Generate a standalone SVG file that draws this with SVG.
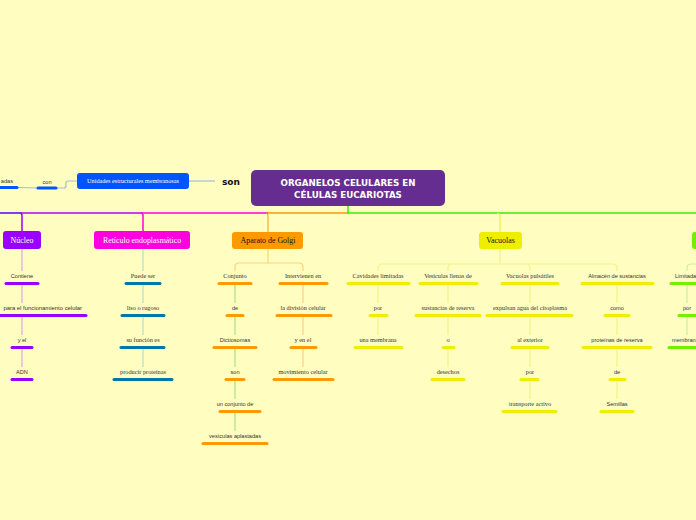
<svg xmlns="http://www.w3.org/2000/svg" width="696" height="520" viewBox="0 0 696 520">
<style>
.s{font-family:"Liberation Sans","DejaVu Sans",sans-serif;font-size:5.6px;fill:#333;text-anchor:middle}
.r{font-family:"Liberation Serif","DejaVu Serif",serif;font-size:6.3px;fill:#333;text-anchor:middle}
.nt{font-family:"Liberation Serif","DejaVu Serif",serif;font-size:7.9px;text-anchor:middle}
.bar{stroke-width:3;stroke-linecap:round;fill:none}
.c{fill:none;stroke-width:1.2}
.pu{stroke:#9900ff}.bl{stroke:#0077aa}.or{stroke:#ff9900}.ye{stroke:#eeee00}.gr{stroke:#77ee00}.bu{stroke:#0055ff}
</style>
<rect width="696" height="520" fill="#fffdc0"/>
<g id="connectors">
<line x1="0" y1="213" x2="22" y2="213" stroke="#5500ff" stroke-width="1.5"/>
<line x1="22" y1="213" x2="143" y2="213" stroke="#bb00ee" stroke-width="1.5"/>
<line x1="143" y1="213" x2="268" y2="213" stroke="#ff00dd" stroke-width="1.5"/>
<line x1="268" y1="213" x2="348" y2="213" stroke="#ff9900" stroke-width="1.5"/>
<path d="M348 206 L348 213 L696 213" stroke="#33ee00" stroke-width="1.5" fill="none"/>
<path d="M20 213 Q22 213 22 216 L22 231" stroke="#9900ff" stroke-width="1.5" fill="none"/>
<path d="M141 213 Q143 213 143 216 L143 231" stroke="#ff00dd" stroke-width="1.5" fill="none"/>
<path d="M266 213 Q268 213 268 216 L268 232" stroke="#ff9900" stroke-width="1" fill="none"/>
<path d="M497 213 Q500 213 500 216 L500 232" stroke="#eeee44" stroke-width="1.2" fill="none"/>
<path d="M189 181 L215 181" stroke="#a8bcd8" stroke-width="1.2" fill="none"/>
<path d="M18 187.5 L37 188" stroke="#a8bcd8" stroke-width="1.2" fill="none"/>
<path d="M57 188 L64 188 Q66 188 66 186 L66 183 Q66 181 68 181 L77 181" stroke="#a8bcd8" stroke-width="1.2" fill="none"/>
<g stroke="#e0a8e0" class="c">
<line x1="22" y1="249" x2="22" y2="271"/><line x1="22" y1="285" x2="22" y2="303"/><line x1="22" y1="317" x2="22" y2="335"/><line x1="22" y1="349" x2="22" y2="367"/>
</g>
<g stroke="#b0e0d4" class="c">
<line x1="143" y1="249" x2="143" y2="271"/><line x1="143" y1="285" x2="143" y2="303"/><line x1="143" y1="317" x2="143" y2="335"/><line x1="143" y1="349" x2="143" y2="367"/>
</g>
<path d="M268 249 L268 263 M235 271 L235 267 Q235 263 239 263 L299 263 Q303 263 303 267 L303 271" stroke="#ffd27a" class="c"/>
<g stroke="#a8e08a" class="c">
<line x1="235" y1="285" x2="235" y2="303"/><line x1="235" y1="317" x2="235" y2="335"/><line x1="235" y1="349" x2="235" y2="367"/><line x1="235" y1="381" x2="235" y2="399"/><line x1="235" y1="413" x2="235" y2="431"/>
</g>
<g stroke="#ffd27a" class="c">
<line x1="303" y1="285" x2="303" y2="303"/><line x1="303" y1="317" x2="303" y2="335"/><line x1="303" y1="349" x2="303" y2="367"/>
</g>
<path d="M500 249 L500 264 M378 271 L378 268 Q378 264 382 264 L613 264 Q617 264 617 268 L617 271 M448 271 L448 268 Q448 264 452 264 M530 271 L530 268 Q530 264 526 264" stroke="#f4f48a" class="c"/>
<g stroke="#f4f48a" class="c">
<line x1="378" y1="285" x2="378" y2="303"/><line x1="378" y1="317" x2="378" y2="335"/>
<line x1="448" y1="285" x2="448" y2="303"/><line x1="448" y1="317" x2="448" y2="335"/><line x1="448" y1="349" x2="448" y2="367"/>
<line x1="530" y1="285" x2="530" y2="303"/><line x1="530" y1="317" x2="530" y2="335"/><line x1="530" y1="349" x2="530" y2="367"/><line x1="530" y1="381" x2="530" y2="399"/>
<line x1="617" y1="285" x2="617" y2="303"/><line x1="617" y1="317" x2="617" y2="335"/><line x1="617" y1="349" x2="617" y2="367"/><line x1="617" y1="381" x2="617" y2="399"/>
</g>
<path d="M687 271 L687 268 Q687 264 691 264 L696 264 M687 285 L687 303 M687 317 L687 335" stroke="#c8f0a0" class="c"/>
</g>
<g id="center">
<rect x="251" y="170" width="194" height="36" rx="5" fill="#662d91"/>
<text x="348" y="186" font-family="'DejaVu Sans',Verdana,sans-serif" font-weight="bold" font-size="8.7" fill="#fff" text-anchor="middle">ORGANELOS CELULARES EN</text>
<text x="348" y="197.5" font-family="'DejaVu Sans',Verdana,sans-serif" font-weight="bold" font-size="8.7" fill="#fff" text-anchor="middle">CÉLULAS EUCARIOTAS</text>
</g>
<g id="son"><text x="231" y="185" font-family="'DejaVu Sans',sans-serif" font-weight="bold" font-size="9" fill="#111" text-anchor="middle">son</text></g>
<g id="unidades">
<rect x="77" y="173" width="112" height="16" rx="3" fill="#0055ff"/>
<text x="133" y="183" class="r" style="fill:#fff;font-size:6.2px">Unidades estructurales membranosas</text>
</g>
<g id="con"><text x="47" y="184" class="s">con</text><line x1="38" y1="188" x2="56" y2="188" class="bar bu"/></g>
<g id="adas"><text x="13" y="183" class="s" style="text-anchor:end">adas</text><line x1="0" y1="187.5" x2="17" y2="187.5" class="bar bu"/></g>
<g id="nucleo">
<rect x="3" y="231" width="38" height="18" rx="3" fill="#9900ff"/>
<text x="22" y="242.5" class="nt" fill="#fff">Núcleo</text>
</g>
<g id="n1"><text x="22" y="278" class="s">Contiene</text><line x1="6" y1="283.5" x2="38" y2="283.5" class="bar pu"/></g>
<g id="n2"><text x="82" y="310" class="s" style="text-anchor:end;font-size:5.9px">para el funcionamiento celular</text><line x1="-2" y1="315.5" x2="86" y2="315.5" class="bar pu"/></g>
<g id="n3"><text x="22" y="342" class="s">y  el</text><line x1="12" y1="347.5" x2="32" y2="347.5" class="bar pu"/></g>
<g id="n4"><text x="22" y="374" class="s">ADN</text><line x1="12" y1="379.5" x2="32" y2="379.5" class="bar pu"/></g>
<g id="reticulo">
<rect x="94" y="231" width="96" height="18" rx="3" fill="#ff00e0"/>
<text x="142" y="242.5" class="nt" fill="#fff">Retículo endoplasmático</text>
</g>
<g id="r1"><text x="143" y="278" class="r">Puede ser</text><line x1="126" y1="283.5" x2="160" y2="283.5" class="bar bl"/></g>
<g id="r2"><text x="143" y="310" class="r">liso o rugoso</text><line x1="122" y1="315.5" x2="164" y2="315.5" class="bar bl"/></g>
<g id="r3"><text x="143" y="342" class="r">su función es</text><line x1="121" y1="347.5" x2="164" y2="347.5" class="bar bl"/></g>
<g id="r4"><text x="143" y="374" class="r">producir proteínas</text><line x1="114" y1="379.5" x2="172" y2="379.5" class="bar bl"/></g>
<g id="golgi">
<rect x="232" y="232" width="71" height="17" rx="3" fill="#ff9900"/>
<text x="268" y="243" class="nt" fill="#111">Aparato de Golgi</text>
</g>
<g id="g1"><text x="235" y="278" class="r">Conjunto</text><line x1="219" y1="283.5" x2="251" y2="283.5" class="bar or"/></g>
<g id="g2"><text x="235" y="310" class="s">de</text><line x1="227" y1="315.5" x2="243" y2="315.5" class="bar or"/></g>
<g id="g3"><text x="235" y="342" class="s">Dictiosomas</text><line x1="214" y1="347.5" x2="256" y2="347.5" class="bar or"/></g>
<g id="g4"><text x="235" y="374" class="s">son</text><line x1="226" y1="379.5" x2="244" y2="379.5" class="bar or"/></g>
<g id="g5"><text x="235" y="406" class="s">un conjunto de</text><line x1="220" y1="411.5" x2="260" y2="411.5" class="bar or"/></g>
<g id="g6"><text x="235" y="438" class="s">vesículas aplastadas</text><line x1="203" y1="443.5" x2="267" y2="443.5" class="bar or"/></g>
<g id="g7"><text x="303" y="278" class="r">Intervienen en</text><line x1="280" y1="283.5" x2="327" y2="283.5" class="bar or"/></g>
<g id="g8"><text x="303" y="310" class="r">la división celular</text><line x1="277" y1="315.5" x2="331" y2="315.5" class="bar or"/></g>
<g id="g9"><text x="303" y="342" class="r">y en el</text><line x1="291" y1="347.5" x2="316" y2="347.5" class="bar or"/></g>
<g id="g10"><text x="303" y="374" class="r">movimiento celular</text><line x1="274" y1="379.5" x2="333" y2="379.5" class="bar or"/></g>
<g id="vacuolas">
<rect x="479" y="232" width="43" height="17" rx="3" fill="#eeee00"/>
<text x="500.5" y="243" class="nt" fill="#111">Vacuolas</text>
</g>
<g id="v1"><text x="378" y="278" class="r">Cavidades limitadas</text><line x1="348" y1="283.5" x2="409" y2="283.5" class="bar ye"/></g>
<g id="v2"><text x="378" y="310" class="r">por</text><line x1="370" y1="315.5" x2="387" y2="315.5" class="bar ye"/></g>
<g id="v3"><text x="378" y="342" class="r">una membrana</text><line x1="355" y1="347.5" x2="402" y2="347.5" class="bar ye"/></g>
<g id="v4"><text x="448" y="278" class="r">Vesículas llenas de</text><line x1="420" y1="283.5" x2="477" y2="283.5" class="bar ye"/></g>
<g id="v5"><text x="448" y="310" class="r">sustancias de reserva</text><line x1="416" y1="315.5" x2="480" y2="315.5" class="bar ye"/></g>
<g id="v6"><text x="448" y="342" class="r">o</text><line x1="443" y1="347.5" x2="454" y2="347.5" class="bar ye"/></g>
<g id="v7"><text x="448" y="374" class="r">desechos</text><line x1="432" y1="379.5" x2="464" y2="379.5" class="bar ye"/></g>
<g id="v8"><text x="530" y="278" class="r">Vacuolas pulsátiles</text><line x1="502" y1="283.5" x2="558" y2="283.5" class="bar ye"/></g>
<g id="v9"><text x="530" y="310" class="r">expulsan agua del citoplasma</text><line x1="487" y1="315.5" x2="572" y2="315.5" class="bar ye"/></g>
<g id="v10"><text x="530" y="342" class="r">al exterior</text><line x1="512" y1="347.5" x2="548" y2="347.5" class="bar ye"/></g>
<g id="v11"><text x="530" y="374" class="r">por</text><line x1="521" y1="379.5" x2="538" y2="379.5" class="bar ye"/></g>
<g id="v12"><text x="530" y="406" class="r">transporte activo</text><line x1="503" y1="411.5" x2="556" y2="411.5" class="bar ye"/></g>
<g id="v13"><text x="617" y="278" class="s">Almacén de sustancias</text><line x1="582" y1="283.5" x2="653" y2="283.5" class="bar ye"/></g>
<g id="v14"><text x="617" y="310" class="s">como</text><line x1="605" y1="315.5" x2="629" y2="315.5" class="bar ye"/></g>
<g id="v15"><text x="617" y="342" class="s">proteínas  de reserva</text><line x1="583" y1="347.5" x2="651" y2="347.5" class="bar ye"/></g>
<g id="v16"><text x="617" y="374" class="s">de</text><line x1="610" y1="379.5" x2="625" y2="379.5" class="bar ye"/></g>
<g id="v17"><text x="617" y="406" class="s">Semillas</text><line x1="601" y1="411.5" x2="633" y2="411.5" class="bar ye"/></g>
<g id="green">
<rect x="692" y="232" width="12" height="17" rx="3" fill="#77ee00"/>
</g>
<g id="gr1"><text x="675" y="278" class="s" style="text-anchor:start">Limitadas</text><line x1="671" y1="283.5" x2="698" y2="283.5" class="bar gr"/></g>
<g id="gr2"><text x="687" y="310" class="s">por</text><line x1="679" y1="315.5" x2="698" y2="315.5" class="bar gr"/></g>
<g id="gr3"><text x="672" y="342" class="s" style="text-anchor:start">membrana</text><line x1="669" y1="347.5" x2="698" y2="347.5" class="bar gr"/></g>
</svg>
